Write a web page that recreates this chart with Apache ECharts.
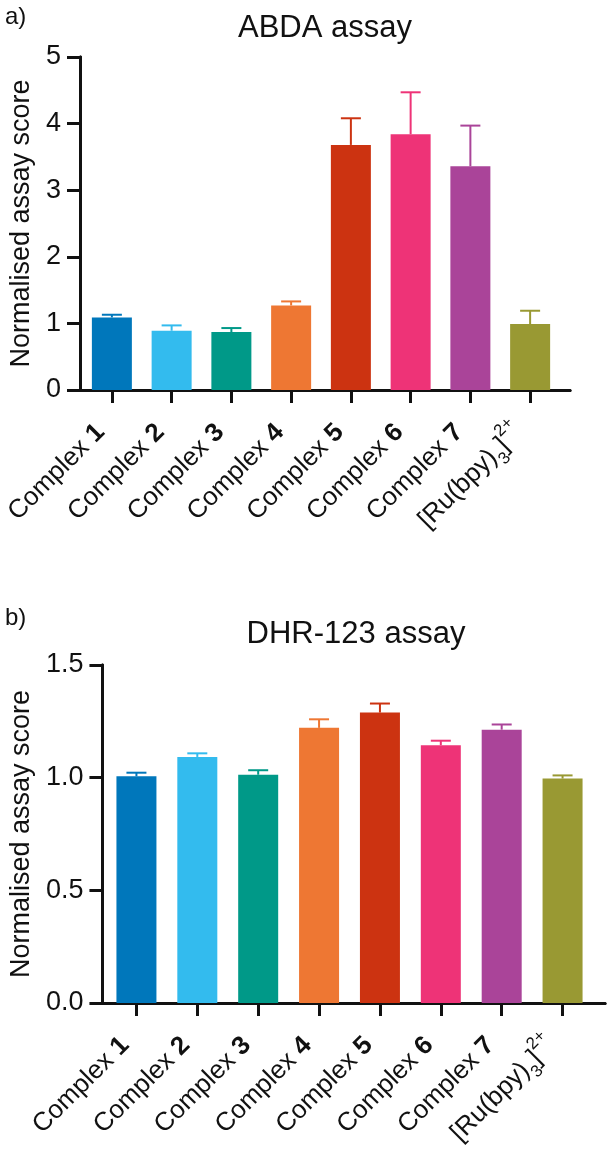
<!DOCTYPE html>
<html>
<head>
<meta charset="utf-8">
<script src="https://cdn.jsdelivr.net/npm/echarts@6/dist/echarts.min.js"></script>
<style>
  html, body { margin: 0; padding: 0; background: #fff; }
  #chart { width: 608px; height: 1154px; }
</style>
</head>
<body>
<div id="chart"></div>
<script>
// categories (number part shown in bold)
var compounds = ['1', '2', '3', '4', '5', '6', '7', 'Ru'];
var barColors = ['#0077bb', '#33bbee', '#009988', '#ee7733', '#cc3311', '#ee3377', '#aa4499', '#999933'];

// a) ABDA assay: mean and SD
var abdaMean = [1.09, 0.89, 0.87, 1.27, 3.68, 3.84, 3.36, 0.99];
var abdaSd = [0.04, 0.08, 0.06, 0.06, 0.40, 0.63, 0.61, 0.20];
var abdaTicks = { min: 0, max: 5, interval: 1 };

// b) DHR-123 assay: mean and SD
var dhrMean = [1.006, 1.092, 1.013, 1.221, 1.289, 1.144, 1.213, 0.996];
var dhrSd = [0.016, 0.016, 0.020, 0.038, 0.040, 0.020, 0.023, 0.014];
var dhrTicks = { min: 0, max: 1.5, interval: 0.5 };

var FONT = 'Liberation Sans, Arial, sans-serif';
var black = '#111';

function catLabel(v) {
  if (v === 'Ru') return '{n|[Ru(bpy)}{sub|3}{n|]}{sup|2+}';
  return '{n|Complex }{b|' + v + '}';
}

var labelRich = {
  n: { fontSize: 26, fontFamily: FONT, color: black },
  b: { fontSize: 26, fontFamily: FONT, fontWeight: 'bold', color: black },
  sub: { fontSize: 17, fontFamily: FONT, color: black, verticalAlign: 'bottom', padding: [0, 0, -7, 0] },
  sup: { fontSize: 17, fontFamily: FONT, color: black, verticalAlign: 'top', padding: [-7, 0, 0, 0] }
};

function barData(means) {
  return means.map(function (v, i) {
    return { value: v, itemStyle: { color: barColors[i] } };
  });
}

function errData(means, sds) {
  return means.map(function (v, i) { return [i, v, v + sds[i]]; });
}

function errRender(params, api) {
  var i = api.value(0);
  var base = api.coord([i, api.value(1)]);
  var top = api.coord([i, api.value(2)]);
  var c = barColors[i];
  return {
    type: 'group',
    children: [
      { type: 'line', shape: { x1: base[0], y1: base[1], x2: top[0], y2: top[1] }, style: { stroke: c, lineWidth: 2 } },
      { type: 'line', shape: { x1: top[0] - 10, y1: top[1], x2: top[0] + 10, y2: top[1] }, style: { stroke: c, lineWidth: 2 } }
    ]
  };
}

var frameLine = { show: true, lineStyle: { color: black, width: 3 } };

// frame grids (even index) and bar grids (odd index)
var grids = [
  { left: 69, right: 38, top: 57, height: 333 },
  { left: 82, right: 48, top: 57, height: 333 },
  { left: 97, right: 3, top: 665, height: 338 },
  { left: 106, right: 15, top: 665, height: 338 }
];

function frameX(gi, pos) {
  return { type: 'value', gridIndex: gi, position: pos, min: 0, max: 1,
    axisLine: frameLine, axisTick: { show: false }, axisLabel: { show: false }, splitLine: { show: false } };
}

function catX(gi) {
  return {
    type: 'category', gridIndex: gi, data: compounds,
    axisLine: { show: false },
    axisTick: { show: true, alignWithLabel: true, length: 13, lineStyle: { color: black, width: 3 } },
    axisLabel: { rotate: 45, margin: 27, padding: [0, 16, 0, 0], interval: 0, formatter: catLabel, rich: labelRich }
  };
}

function leftY(gi, t, dec, gap) {
  return {
    type: 'value', gridIndex: gi, min: t.min, max: t.max, interval: t.interval,
    axisLine: frameLine,
    axisTick: { show: true, length: 13, lineStyle: { color: black, width: 3 } },
    axisLabel: { fontSize: 27, fontFamily: FONT, color: black, margin: 19,
      formatter: function (v) { return v.toFixed(dec); } },
    splitLine: { show: false },
    name: 'Normalised assay score', nameLocation: 'middle', nameGap: gap, nameRotate: 90,
    nameTextStyle: { fontSize: 27, fontFamily: FONT, color: black }
  };
}

function rightY(gi) {
  return { type: 'value', gridIndex: gi, position: 'right', min: 0, max: 1,
    axisLine: frameLine, axisTick: { show: false }, axisLabel: { show: false }, splitLine: { show: false } };
}

function hiddenY(gi, t) {
  return { type: 'value', gridIndex: gi, min: t.min, max: t.max, show: false };
}

var chart = echarts.init(document.getElementById('chart'));
var option = {
  animation: false,
  backgroundColor: '#fff',
  title: [
    { text: 'a)', left: 0, top: 0, textStyle: { fontSize: 24, fontWeight: 'normal', fontFamily: FONT, color: black } },
    { text: 'ABDA assay', left: 320, top: 8, textAlign: 'center', textStyle: { fontSize: 31, fontWeight: 'normal', fontFamily: FONT, color: black } },
    { text: 'b)', left: 0, top: 601, textStyle: { fontSize: 24, fontWeight: 'normal', fontFamily: FONT, color: black } },
    { text: 'DHR-123 assay', left: 351, top: 614, textAlign: 'center', textStyle: { fontSize: 31, fontWeight: 'normal', fontFamily: FONT, color: black } }
  ],
  grid: grids,
  xAxis: [
    frameX(0, 'bottom'), frameX(0, 'top'), catX(1),
    frameX(2, 'bottom'), frameX(2, 'top'), catX(3)
  ],
  yAxis: [
    leftY(0, abdaTicks, 0, 45), rightY(0), hiddenY(1, abdaTicks),
    leftY(2, dhrTicks, 1, 66), rightY(2), hiddenY(3, dhrTicks)
  ],
  series: [
    { type: 'bar', xAxisIndex: 2, yAxisIndex: 2, barWidth: 40, data: barData(abdaMean) },
    { type: 'custom', xAxisIndex: 2, yAxisIndex: 2, renderItem: errRender, data: errData(abdaMean, abdaSd), z: 1 },
    { type: 'bar', xAxisIndex: 5, yAxisIndex: 5, barWidth: 40, data: barData(dhrMean) },
    { type: 'custom', xAxisIndex: 5, yAxisIndex: 5, renderItem: errRender, data: errData(dhrMean, dhrSd), z: 1 }
  ]
};
chart.setOption(option);
</script>
</body>
</html>
